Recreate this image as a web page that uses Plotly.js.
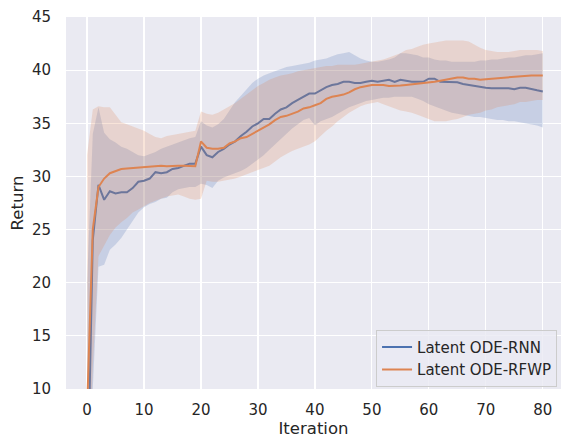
<!DOCTYPE html>
<html>
<head>
<meta charset="utf-8">
<script src="https://cdn.plot.ly/plotly-3.0.1.min.js"></script>
<style>html,body{margin:0;padding:0;background:#fff;}#chart{width:562px;height:438px;}</style>
</head>
<body>
<div id="chart"></div>
<script>
const iterations = Array.from({length: 81}, (_, i) => i);
const seriesNames = ["Latent ODE-RNN", "Latent ODE-RFWP"];

const rnnMean = [-2, 24, 29.2, 27.8, 28.6, 28.4, 28.5, 28.5, 28.9, 29.5,
  29.6, 29.8, 30.4, 30.3, 30.4, 30.7, 30.8, 31.0, 31.2, 31.2,
  32.8, 32.0, 31.8, 32.3, 32.6, 33.0, 33.3, 33.8, 34.2, 34.7,
  35.0, 35.4, 35.4, 35.9, 36.3, 36.5, 36.9, 37.2, 37.5, 37.8,
  37.8, 38.1, 38.4, 38.6, 38.7, 38.9, 38.9, 38.8, 38.8, 38.9,
  39.0, 38.9, 39.0, 39.1, 38.9, 39.1, 39.0, 38.9, 38.9, 38.9,
  39.2, 39.2, 38.9, 38.9, 38.9, 38.85, 38.7, 38.6, 38.5, 38.4,
  38.35, 38.3, 38.3, 38.35, 38.3, 38.2, 38.35, 38.35, 38.2, 38.1, 38.0];
const rnnUpper = [20, 34, 36.5, 34.1, 33.5, 33.2, 32.8, 32.6, 32.3, 32.0,
  31.9, 32.1, 32.3, 32.6, 32.8, 33.0, 33.2, 33.4, 33.6, 33.7,
  35.2, 34.8, 34.6, 34.9, 35.4, 36.2, 37.0, 37.6, 38.2, 38.8,
  39.2, 39.5, 39.7, 39.9, 40.1, 40.3, 40.4, 40.5, 40.6, 40.7,
  40.9, 41.0, 41.1, 41.3, 41.5, 41.6, 41.7, 41.4, 41.1, 40.9,
  40.8, 40.8, 40.9, 41.0, 41.2, 41.6, 41.6, 41.5, 41.4, 41.2,
  41.2, 41.0, 40.9, 40.9, 40.8, 40.8, 40.8, 40.8, 40.8, 40.9,
  40.9, 41.0, 41.0, 41.1, 41.2, 41.2, 41.3, 41.4, 41.4, 41.5, 41.6];
const rnnLower = [-15, 10, 21.5, 21.7, 23.1, 23.6, 24.2, 25.0, 25.9, 26.6,
  27.1, 27.4, 27.6, 27.9, 28.0, 28.5, 28.8, 28.9, 29.0, 29.0,
  29.3, 29.2, 28.9, 29.6, 29.9, 30.1, 30.3, 30.5, 30.8, 31.2,
  31.6, 32.0, 32.5, 33.0, 33.5, 34.0, 34.5, 34.9, 35.3, 35.5,
  34.8, 35.2, 35.4, 35.6, 35.9, 36.2, 36.5, 36.7, 36.9, 37.1,
  37.2, 37.3, 37.4, 37.4, 37.5, 37.5, 37.5, 37.5, 37.3, 37.1,
  36.8, 36.6, 36.4, 36.2, 36.0, 35.9, 35.8, 35.7, 35.6, 35.6,
  35.5, 35.4, 35.3, 35.3, 35.2, 35.2, 35.1, 35.0, 34.9, 34.8, 34.6];

const rfwpMean = [8, 25.0, 29.0, 29.8, 30.3, 30.5, 30.7, 30.75, 30.8, 30.85,
  30.9, 30.9, 31.0, 31.0, 30.95, 31.0, 31.0, 31.0, 31.0, 30.95,
  33.3, 32.7, 32.6, 32.6, 32.7, 33.1, 33.3, 33.6, 33.7, 34.0,
  34.3, 34.6, 34.9, 35.3, 35.6, 35.7, 35.9, 36.1, 36.4, 36.5,
  36.7, 36.9, 37.3, 37.5, 37.6, 37.7, 37.9, 38.2, 38.4, 38.5,
  38.6, 38.6, 38.6, 38.5, 38.5, 38.55, 38.6, 38.65, 38.7, 38.75,
  38.8, 38.9, 39.0, 39.1, 39.2, 39.3, 39.3, 39.2, 39.2, 39.1,
  39.15, 39.2, 39.2, 39.25, 39.3, 39.4, 39.45, 39.5, 39.5, 39.5, 39.5];
const rfwpUpper = [32, 36.3, 36.6, 36.5, 36.5, 35.8, 35.1, 34.9, 34.7, 34.5,
  34.3, 34.0, 33.7, 33.6, 33.8, 33.9, 34.0, 34.1, 34.2, 34.3,
  36.1, 35.9, 35.8, 36.0, 36.3, 36.6, 36.9, 37.3, 37.7, 38.1,
  38.5, 38.8, 39.1, 39.3, 39.5, 39.6, 39.7, 39.9, 40.0, 40.1,
  40.2, 40.3, 40.4, 40.4, 40.5, 40.5, 40.5, 40.5, 40.6, 40.7,
  40.8, 40.9, 41.0, 41.2, 41.4, 41.6, 41.9, 42.0, 42.2, 42.4,
  42.5, 42.6, 42.7, 42.8, 42.8, 42.8, 42.8, 42.7, 42.4, 42.1,
  41.9, 41.8, 41.7, 41.7, 41.7, 41.8, 41.9, 41.9, 41.9, 41.9, 41.8];
const rfwpLower = [-5, 12, 22.5, 23.5, 24.5, 25.2, 25.7, 26.1, 26.6, 26.9,
  27.2, 27.5, 27.7, 27.9, 28.1, 28.2, 28.3, 28.1, 27.9, 27.8,
  27.9, 29.6, 29.5, 29.5, 29.6, 29.7, 29.8, 30.0, 30.2, 30.4,
  30.6, 30.8, 31.0, 31.4, 31.8, 32.1, 32.4, 32.6, 32.8, 33.0,
  33.3, 33.8, 34.3, 34.7, 35.2, 35.6, 36.0, 36.3, 36.6, 36.8,
  36.9, 37.0, 36.8, 36.6, 36.4, 36.2, 36.1, 36.0, 35.8, 35.6,
  35.4, 35.2, 35.2, 35.2, 35.3, 35.4, 35.6, 35.8, 35.9, 36.0,
  36.2, 36.3, 36.5, 36.6, 36.7, 36.8, 37.0, 37.0, 37.1, 37.2, 37.2];

const xTicks = [0, 10, 20, 30, 40, 50, 60, 70, 80];
const yTicks = [10, 15, 20, 25, 30, 35, 40, 45];

const colors = ["#4C72B0", "#DD8452"];
const fills = ["rgba(76,114,176,0.22)", "rgba(221,132,82,0.22)"];

function bandTraces(upper, lower, mean, k) {
  return [
    {x: iterations, y: upper, mode: "lines", line: {width: 0, color: fills[k]}, showlegend: false, hoverinfo: "skip"},
    {x: iterations, y: lower, mode: "lines", line: {width: 0, color: fills[k]}, fill: "tonexty", fillcolor: fills[k], showlegend: false, hoverinfo: "skip"},
    {x: iterations, y: mean, mode: "lines", name: seriesNames[k], line: {width: 2, color: colors[k]}}
  ];
}

const data = [
  ...bandTraces(rnnUpper, rnnLower, rnnMean, 0),
  ...bandTraces(rfwpUpper, rfwpLower, rfwpMean, 1)
];

const font = {family: "DejaVu Sans, sans-serif", color: "#262626"};
const layout = {
  width: 562, height: 438,
  margin: {l: 66, r: 1, t: 17, b: 49},
  paper_bgcolor: "#ffffff",
  plot_bgcolor: "#EAEAF2",
  font: Object.assign({size: 15}, font),
  showlegend: true,
  legend: {
    x: 0.992, xanchor: "right", y: 0.006, yanchor: "bottom",
    traceorder: "normal",
    bgcolor: "rgba(234,234,242,0.8)", bordercolor: "#cccccc", borderwidth: 1,
    font: Object.assign({size: 15}, font),
    tracegroupgap: 0
  },
  xaxis: {
    range: [-3.7, 83.2], tickvals: xTicks, ticktext: xTicks.map(String),
    showgrid: true, gridcolor: "#ffffff", gridwidth: 1.2, zeroline: false,
    showline: false, ticks: "outside", ticklen: 7, tickcolor: "rgba(0,0,0,0)",
    tickfont: Object.assign({size: 15}, font),
    title: {text: "Iteration", font: Object.assign({size: 16.5}, font), standoff: 5}
  },
  yaxis: {
    range: [10, 45], tickvals: yTicks, ticktext: yTicks.map(String),
    showgrid: true, gridcolor: "#ffffff", gridwidth: 1.2, zeroline: false,
    showline: false, ticks: "outside", ticklen: 11, tickcolor: "rgba(0,0,0,0)",
    tickfont: Object.assign({size: 15}, font),
    title: {text: "Return", font: Object.assign({size: 16.5}, font), standoff: 4}
  }
};

Plotly.newPlot("chart", data, layout, {displayModeBar: false, staticPlot: true});
</script>
</body>
</html>
